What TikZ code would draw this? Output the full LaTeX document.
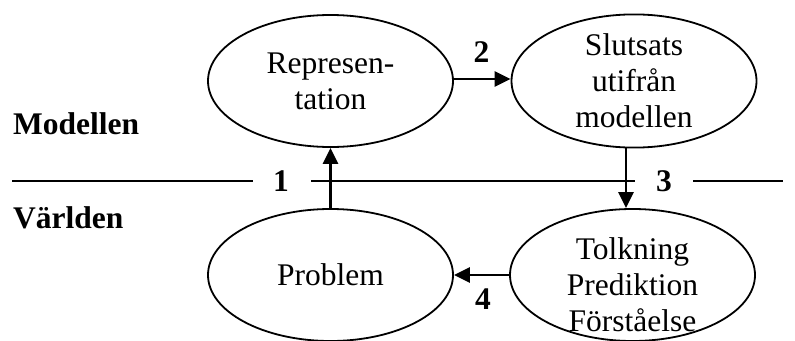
\documentclass[tikz,border=0pt]{standalone}
\usepackage{fontspec}
\setmainfont{Liberation Serif}
\usetikzlibrary{shapes.geometric,arrows.meta}
\begin{document}
\begin{tikzpicture}[x=1pt,y=-1pt,
  oval/.style={ellipse,draw,line width=1.8pt,minimum width=245pt,minimum height=132pt,inner sep=0pt,align=center,font=\fontsize{31.5}{36}\selectfont},
  txt/.style={align=center,inner sep=0pt,font=\fontsize{31.5}{36}\selectfont},
  lbl/.style={inner sep=0pt,font=\fontsize{31.5}{36}\selectfont\bfseries},
  flow/.style={line width=2.6pt,-{Triangle[length=16pt,width=15pt]}},
  sep/.style={line width=2.2pt}]
\useasboundingbox (0,0) rectangle (795,340);
\node[oval] (rep) at (330.5,81) {Represen-\\tation};
\node[oval] (slut) at (634,81) {Slutsats\\utifrån\\modellen};
\node[oval] (prob) at (330.5,275) {Problem};
\node[oval] (tolk) at (632.5,275) {};
\node[txt] (tolktxt) at (632.5,285) {Tolkning\\Prediktion\\Förståelse};
\node[lbl,anchor=base west] (mod) at (13,134) {Modellen};
\node[lbl,anchor=base west] (varld) at (13,228) {Världen};
\node[lbl] (n1) at (281,181) {1};
\node[lbl] (n2) at (481.5,52.5) {2};
\node[lbl] (n3) at (664,181) {3};
\node[lbl] (n4) at (483,299.5) {4};
\coordinate (s1) at (12,181);
\coordinate (s2) at (253,181);
\coordinate (s3) at (311,181);
\coordinate (s4) at (635,181);
\coordinate (s5) at (693,181);
\coordinate (s6) at (783,181);
\draw[sep] (s1) -- (s2);
\draw[sep] (s3) -- (s4);
\draw[sep] (s5) -- (s6);
\draw[flow] (prob.north) -- (rep.south);
\draw[flow] ([yshift=2pt]rep.east) -- ([yshift=2pt]slut.west);
\draw[flow] ([xshift=-8pt]slut.south) -- ([xshift=-6.5pt]tolk.north);
\draw[flow] (tolk.west) -- (prob.east);
\end{tikzpicture}
\end{document}
